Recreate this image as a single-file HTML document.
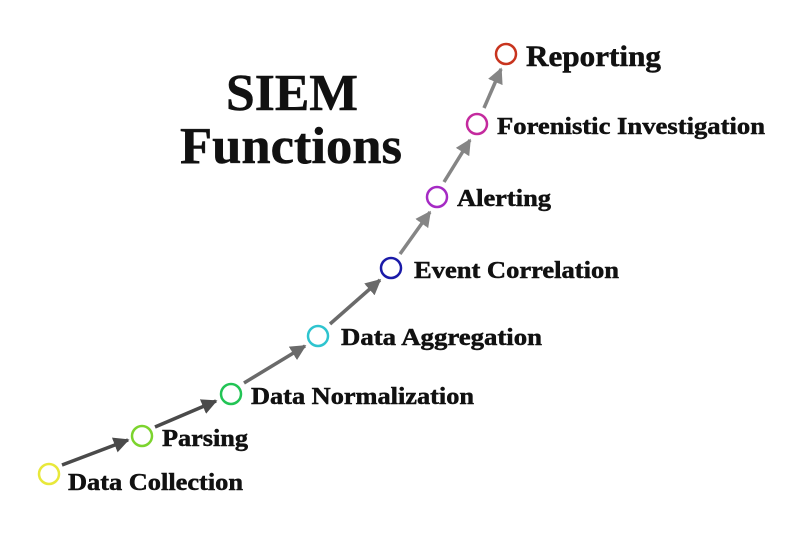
<!DOCTYPE html>
<html><head><meta charset="utf-8"><style>
html,body{margin:0;padding:0;background:#fff;}
svg{display:block}
text{font-family:"Liberation Serif",serif;font-weight:bold;fill:#111;stroke:#111;stroke-width:0.5}
</style></head><body>
<svg width="800" height="534" viewBox="0 0 800 534" xmlns="http://www.w3.org/2000/svg">
<defs>
<marker id="ad" viewBox="0 0 10 10" refX="9" refY="5" markerWidth="4.5" markerHeight="4.5" orient="auto"><path d="M0,0 L10,5 L0,10 z" fill="#4a4a4a"/></marker>
<marker id="am" viewBox="0 0 10 10" refX="9" refY="5" markerWidth="4.5" markerHeight="4.5" orient="auto"><path d="M0,0 L10,5 L0,10 z" fill="#6a6a6a"/></marker>
<marker id="al" viewBox="0 0 10 10" refX="9" refY="5" markerWidth="4.5" markerHeight="4.5" orient="auto"><path d="M0,0 L10,5 L0,10 z" fill="#858585"/></marker>
</defs>
<text x="292" y="110" font-size="52" text-anchor="middle" textLength="132" lengthAdjust="spacingAndGlyphs">SIEM</text>
<text x="291" y="163" font-size="52" text-anchor="middle" textLength="222" lengthAdjust="spacingAndGlyphs">Functions</text>

<g stroke-width="3.5" fill="none">
<line x1="62" y1="465" x2="128" y2="440" stroke="#4a4a4a" marker-end="url(#ad)"/>
<line x1="155" y1="427" x2="216" y2="401" stroke="#4a4a4a" marker-end="url(#ad)"/>
<line x1="244" y1="383" x2="305" y2="346" stroke="#6a6a6a" marker-end="url(#am)"/>
<line x1="330" y1="324" x2="380" y2="280" stroke="#6a6a6a" marker-end="url(#am)"/>
<line x1="400" y1="254" x2="430" y2="212" stroke="#858585" marker-end="url(#al)"/>
<line x1="444" y1="182" x2="470" y2="140" stroke="#858585" marker-end="url(#al)"/>
<line x1="484" y1="108" x2="501" y2="69" stroke="#858585" marker-end="url(#al)"/>
</g>

<g fill="none" stroke-width="2.5">
<circle cx="49" cy="474" r="10" stroke="#e8e83a"/>
<circle cx="142" cy="436" r="10" stroke="#7cd42e"/>
<circle cx="231" cy="394" r="10" stroke="#22c455"/>
<circle cx="318" cy="336" r="10" stroke="#2ec4cf"/>
<circle cx="391" cy="268" r="10" stroke="#1a1aa8"/>
<circle cx="437" cy="197" r="10" stroke="#a52ac4"/>
<circle cx="477" cy="124" r="10" stroke="#c42a9e"/>
<circle cx="506" cy="54" r="10" stroke="#c8341e"/>
</g>

<text x="68" y="490" font-size="24" textLength="175" lengthAdjust="spacingAndGlyphs">Data Collection</text>
<text x="162" y="446" font-size="24" textLength="86" lengthAdjust="spacingAndGlyphs">Parsing</text>
<text x="251" y="404" font-size="24" textLength="223" lengthAdjust="spacingAndGlyphs">Data Normalization</text>
<text x="341" y="345" font-size="24" textLength="201" lengthAdjust="spacingAndGlyphs">Data Aggregation</text>
<text x="414" y="278" font-size="24" textLength="205" lengthAdjust="spacingAndGlyphs">Event Correlation</text>
<text x="457" y="206" font-size="24" textLength="94" lengthAdjust="spacingAndGlyphs">Alerting</text>
<text x="497" y="134" font-size="24" textLength="268" lengthAdjust="spacingAndGlyphs">Forenistic Investigation</text>
<text x="526" y="66" font-size="30" textLength="135" lengthAdjust="spacingAndGlyphs">Reporting</text>
</svg>
</body></html>
